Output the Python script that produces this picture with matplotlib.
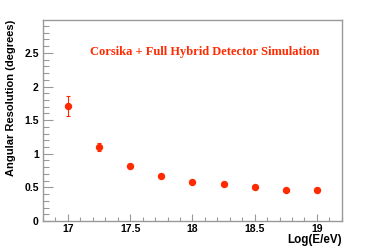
import matplotlib
matplotlib.use("Agg")
import matplotlib.pyplot as plt
from matplotlib.ticker import MultipleLocator

# values
log_energy = [17.0, 17.25, 17.5, 17.75, 18.0, 18.25, 18.5, 18.75, 19.0]
resolution = [1.71, 1.10, 0.82, 0.67, 0.585, 0.55, 0.50, 0.465, 0.465]
res_error = [0.15, 0.055, 0.03, 0.015, 0.012, 0.01, 0.01, 0.008, 0.008]

red = '#ff2a00'
gray = '#999999'

fig = plt.figure(figsize=(3.74, 2.5), dpi=100)
ax = fig.add_axes([0.115, 0.116, 0.799, 0.804])

ax.errorbar(log_energy, resolution, yerr=res_error, fmt='o', color=red,
            markersize=4.3, elinewidth=0.8, capsize=1.5, capthick=0.8)

ax.set_xlim(16.8, 19.2)
ax.set_ylim(0, 2.99)
ax.xaxis.set_minor_locator(MultipleLocator(0.1))
ax.yaxis.set_minor_locator(MultipleLocator(0.1))
ax.set_xticks([17, 17.5, 18, 18.5, 19])
ax.set_xticklabels(['17', '17.5', '18', '18.5', '19'])
ax.set_yticks([0, 0.5, 1, 1.5, 2, 2.5])
ax.set_yticklabels(['0', '0.5', '1', '1.5', '2', '2.5'])

ax.tick_params(which='both', direction='in', color=gray, width=0.8,
               labelsize=7.5, top=False, right=False)
ax.tick_params(axis='y', which='major', length=7, pad=3)
ax.tick_params(axis='y', which='minor', length=4)
ax.tick_params(axis='x', which='major', length=5, pad=2)
ax.tick_params(axis='x', which='minor', length=3)
for lab in ax.get_xticklabels() + ax.get_yticklabels():
    lab.set_fontweight('bold')
    lab.set_family('Liberation Sans')

for s in ax.spines.values():
    s.set_color(gray)
    s.set_linewidth(1.0)

# ROOT style: axis titles flush with the far end of the axis
ax.set_ylabel('Angular Resolution (degrees)', fontsize=8, fontweight='bold',
              family='Liberation Sans', ha='right', va='center')
ax.yaxis.set_label_coords(-0.107, 1.0)
ax.set_xlabel('Log(E/eV)', fontsize=8.4, fontweight='bold',
              family='Liberation Sans', ha='right', va='center')
ax.xaxis.set_label_coords(1.0, -0.095)

ax.text(0.54, 0.84, 'Corsika + Full Hybrid Detector Simulation',
        transform=ax.transAxes, color=red, fontsize=9, fontweight='bold',
        family='Liberation Serif', ha='center', va='center')

fig.savefig('out.png', dpi=100)
